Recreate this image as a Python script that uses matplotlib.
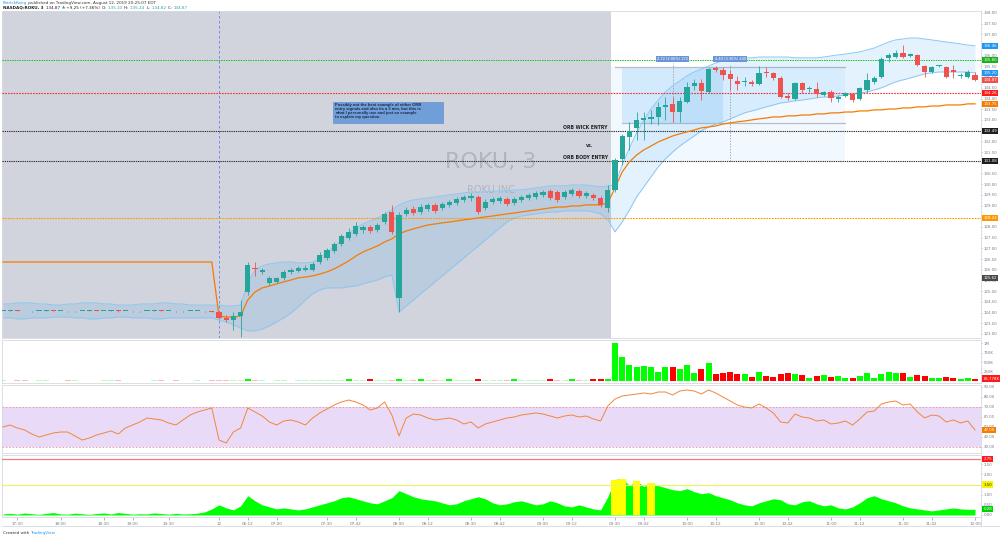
import matplotlib
matplotlib.use("Agg")
import matplotlib.pyplot as plt
import matplotlib.transforms as mtransforms
from matplotlib.patches import Rectangle
import numpy as np

plt.rcParams['font.family'] = ['DejaVu Sans']

# ---------------------------------------------------------------- data
# bar slots: -85 .. -56 prior-day after hours, -55 .. -1 pre-market, 0 .. 50 regular session
first_slot = -85

ah_open = [124.07,124.07,124.08,124.07,124.06,124.07,124.07,124.08,124.07,124.07,124.06,124.07,124.07,124.08,124.07,
           124.07,124.12,124.07,124.07,124.06,124.07,124.07,124.08,124.07,124.07,124.06,124.07,124.07,124.07,124.06]
ah_high = [124.09,124.10,124.10,124.09,124.08,124.09,124.10,124.10,124.09,124.08,124.08,124.09,124.10,124.10,124.09,
           124.14,124.14,124.09,124.08,124.08,124.09,124.10,124.10,124.09,124.08,124.08,124.09,124.09,124.08,124.08]
ah_low = [124.05,124.05,124.05,124.05,124.04,124.05,124.05,124.05,124.05,124.04,124.04,124.05,124.05,124.05,124.05,
          124.05,124.03,124.05,124.04,124.04,124.05,124.05,124.05,124.05,124.04,124.04,124.05,124.05,124.04,124.01]
ah_close = [124.07,124.08,124.07,124.06,124.07,124.07,124.08,124.07,124.07,124.06,124.07,124.07,124.08,124.07,124.07,
            124.12,124.05,124.07,124.06,124.07,124.07,124.08,124.07,124.07,124.06,124.07,124.07,124.07,124.06,124.03]

pm_open = [124.03,123.75,123.65,123.84,124.96,126.08,125.90,125.38,125.43,125.62,125.90,125.94,125.99,125.99,126.36,
           126.55,126.88,127.21,127.49,127.67,127.86,128.00,127.86,128.23,128.70,124.68,128.61,128.84,128.70,128.84,
           129.03,128.89,129.03,129.12,129.26,129.35,129.40,128.89,129.17,129.21,129.31,129.12,129.26,129.35,129.40,
           129.50,129.68,129.63,129.40,129.54,129.68,129.45,129.50,129.35,128.89]
pm_high = [124.07,123.89,124.03,124.59,126.36,126.36,126.08,125.71,125.66,125.99,126.08,126.18,126.22,126.36,126.83,
           127.02,127.30,127.67,127.95,128.23,128.09,128.09,128.19,128.70,129.03,128.70,128.93,128.98,129.07,129.12,
           129.12,129.17,129.26,129.40,129.50,129.59,129.50,129.31,129.40,129.45,129.40,129.40,129.50,129.59,129.68,
           129.73,129.78,129.73,129.73,129.82,129.78,129.68,129.59,129.45,129.96]
pm_low = [123.70,123.56,123.19,122.85,124.82,125.71,125.80,125.29,125.38,125.52,125.80,125.90,125.94,125.94,126.27,
          126.46,126.78,127.11,127.39,127.58,127.72,127.72,127.77,128.14,127.67,124.03,128.51,128.56,128.61,128.75,
          128.65,128.79,128.93,129.03,129.17,129.21,128.61,128.79,129.07,129.12,128.98,129.03,129.17,129.26,129.31,
          129.40,129.26,129.17,129.31,129.45,129.35,129.35,129.26,128.93,128.70]
pm_close = [123.75,123.65,123.84,124.03,126.22,126.04,125.99,125.62,125.62,125.90,125.99,126.08,126.08,126.27,126.69,
            126.92,127.21,127.58,127.77,128.05,128.00,127.81,128.09,128.61,127.77,128.56,128.79,128.65,128.93,129.03,
            128.75,129.07,129.17,129.31,129.40,129.45,128.70,129.17,129.31,129.35,129.07,129.31,129.40,129.50,129.59,
            129.63,129.35,129.26,129.63,129.73,129.45,129.59,129.35,129.03,129.73]

rth_open = [129.73,131.18,132.21,132.63,133.00,133.05,133.14,133.61,133.75,133.37,133.84,134.59,134.73,134.31,135.43,
            135.34,135.15,134.82,134.78,134.78,134.68,135.24,135.20,134.96,134.12,133.98,134.73,134.45,134.45,134.17,
            134.31,133.98,134.12,134.21,133.98,134.40,134.78,135.01,135.90,135.94,136.13,135.99,136.04,135.52,135.24,
            135.52,135.48,135.34,135.06,135.01,135.10]
rth_high = [131.22,132.35,132.91,133.37,133.37,133.47,133.84,134.07,134.07,134.07,134.78,134.92,134.92,135.43,135.52,
            135.48,135.34,135.06,135.01,134.87,135.52,135.48,135.24,135.06,134.26,134.78,134.78,134.59,134.78,134.35,
            134.40,134.17,134.31,134.26,134.54,135.20,135.06,135.94,136.13,136.27,136.50,136.13,136.08,135.57,135.52,
            135.57,135.52,135.57,135.20,135.34,135.24]
rth_low = [129.63,130.90,131.60,132.07,132.07,132.81,132.77,133.00,132.91,132.91,133.79,134.40,133.93,134.26,135.24,
           134.87,134.40,134.40,134.59,134.59,134.64,135.01,134.87,134.03,133.93,133.93,134.26,134.31,134.07,134.12,
           133.84,133.84,134.07,133.84,133.93,134.26,134.68,134.96,135.71,135.90,135.90,135.94,135.52,135.01,135.20,
           135.48,134.96,134.96,134.96,134.96,134.82]
rth_close = [131.13,132.25,132.49,133.00,133.09,133.14,133.61,133.70,133.37,133.89,134.54,134.73,134.35,135.38,135.34,
             135.10,134.92,134.68,134.79,134.68,135.20,135.18,134.96,134.07,134.03,134.73,134.40,134.46,134.21,134.31,
             134.03,134.07,134.26,133.93,134.50,134.87,134.96,135.85,136.04,136.13,135.94,136.08,135.57,135.24,135.48,
             135.53,135.01,135.24,135.07,135.24,134.87]

bb_upper = ([124.40,124.40,124.45,124.45,124.45,124.40,124.40,124.35,124.35,124.40,124.40,124.45,124.45,124.45,124.40,
             124.40,124.35,124.35,124.35,124.40,124.40,124.40,124.45,124.45,124.40,124.40,124.35,124.35,124.35,124.35] +
            [124.35,124.31,124.31,124.35,125.43,125.99,126.18,126.27,126.32,126.36,126.36,126.32,126.32,126.36,126.55,
             126.83,127.07,127.39,127.67,127.95,128.14,128.28,128.42,128.61,128.79,129.03,129.17,129.26,129.31,129.35,
             129.40,129.45,129.50,129.54,129.59,129.63,129.63,129.63,129.68,129.68,129.68,129.73,129.73,129.78,129.82,
             129.87,129.92,129.92,129.92,129.96,129.96,129.96,129.92,129.87,129.92] +
            [129.96,130.90,131.69,132.39,133.00,133.51,133.93,134.31,134.59,134.82,135.06,135.24,135.38,135.52,135.66,
             135.76,135.80,135.85,135.90,135.90,135.94,135.94,135.94,135.94,135.94,135.90,135.90,135.90,135.90,135.94,
             135.99,136.04,136.08,136.13,136.18,136.27,136.36,136.50,136.64,136.74,136.78,136.83,136.83,136.78,136.74,
             136.69,136.64,136.60,136.55,136.50,136.46])
bb_lower = ([123.75,123.75,123.70,123.70,123.75,123.75,123.75,123.79,123.79,123.79,123.75,123.75,123.70,123.70,123.75,
             123.75,123.79,123.79,123.75,123.75,123.75,123.70,123.70,123.75,123.75,123.75,123.75,123.75,123.75,123.75] +
            [123.65,123.56,123.42,123.28,123.14,123.14,123.23,123.37,123.56,123.75,123.98,124.26,124.59,124.87,125.06,
             125.15,125.15,125.15,125.20,125.24,125.34,125.43,125.52,125.66,125.76,124.03,124.31,124.59,124.87,125.15,
             125.43,125.71,125.99,126.27,126.55,126.83,127.11,127.39,127.67,127.95,128.23,128.42,128.51,128.56,128.61,
             128.65,128.70,128.70,128.75,128.75,128.75,128.75,128.70,128.61,128.33] +
            [127.77,128.23,128.79,129.40,129.87,130.34,130.80,131.18,131.50,131.78,132.02,132.25,132.49,132.67,132.81,
             132.91,133.05,133.19,133.33,133.42,133.51,133.61,133.70,133.79,133.84,133.89,133.93,133.98,134.03,134.07,
             134.07,134.12,134.17,134.21,134.26,134.31,134.40,134.50,134.64,134.78,134.87,134.96,135.06,135.15,135.20,
             135.24,135.24,135.24,135.24,135.24,135.20])
vwap = ([126.36] * 30 +
        [123.84,123.79,123.79,123.84,124.59,124.96,125.15,125.24,125.34,125.43,125.52,125.62,125.66,125.71,125.80,
         125.90,126.04,126.22,126.41,126.64,126.83,126.97,127.11,127.30,127.44,127.67,127.81,127.91,128.00,128.09,
         128.14,128.19,128.23,128.28,128.33,128.37,128.42,128.47,128.51,128.56,128.61,128.65,128.70,128.75,128.79,
         128.84,128.89,128.93,128.93,128.98,128.98,129.03,129.03,129.03,129.12] +
        [129.82,130.57,131.04,131.36,131.60,131.78,131.97,132.11,132.25,132.35,132.44,132.53,132.63,132.67,132.72,
         132.81,132.86,132.91,132.95,133.00,133.05,133.09,133.14,133.14,133.19,133.19,133.23,133.23,133.28,133.28,
         133.33,133.33,133.37,133.37,133.42,133.42,133.47,133.47,133.51,133.51,133.56,133.56,133.61,133.61,133.65,
         133.65,133.70,133.70,133.70,133.75,133.75])

volume = ([20000,0,25000,20000,0,22000,25000,0,0,20000,25000,0,0,0,22000,25000,24000,0,0,0,0,20000,25000,0,20000,
           0,0,22000,0,18000] +
          [30000,20000,25000,35000,45000,20000,15000,0,20000,15000,0,18000,20000,15000,25000,30000,28000,20000,45000,
           25000,30000,42000,20000,30000,25000,55000,30000,25000,48000,20000,30000,25000,45000,30000,20000,28000,45000,
           25000,30000,20000,22000,45000,25000,20000,30000,25000,50000,30000,25000,45000,22000,28000,48000,50000,60000] +
          [1010000,638000,426000,372000,399000,372000,239000,372000,372000,319000,426000,213000,319000,479000,186000,
           213000,239000,186000,186000,106000,239000,133000,106000,186000,213000,186000,160000,80000,133000,160000,
           106000,133000,80000,80000,133000,213000,80000,186000,239000,213000,213000,106000,160000,133000,80000,
           80000,106000,80000,53000,80000,65778])

rsi = ([50,52,49,47,43,40,42,44,45,45,41,37,39,42,44,46,43,49,52,55,59,58,57,54,52,57,62,65,67,69] +
       [37,34,45,49,69,65,61,55,52,56,57,55,52,59,64,68,72,75,77,75,72,67,69,75,62,41,59,63,62,59,57,58,59,57,53,
        55,49,53,55,57,59,60,62,63,64,63,61,59,61,62,60,61,58,56,71] +
       [78,81,82,83,84,83,85,85,82,86,87,86,83,87,84,80,76,72,70,69,73,69,64,55,54,63,60,59,56,57,53,54,56,52,58,
        65,66,73,75,76,72,73,65,59,62,61,55,57,54,56,47])

rvol = ([0.05,0.08,0.04,0.10,0.06,0.03,0.08,0.12,0.05,0.04,0.09,0.06,0.03,0.07,0.10,0.05,0.12,0.08,0.04,0.06,
         0.05,0.10,0.07,0.04,0.08,0.05,0.06,0.09,0.15,0.30] +
        [0.50,0.35,0.25,0.45,0.95,0.70,0.50,0.40,0.30,0.35,0.30,0.25,0.30,0.40,0.50,0.60,0.70,0.85,0.90,0.80,
         0.70,0.60,0.55,0.70,0.85,1.20,1.05,0.90,0.80,0.75,0.70,0.60,0.50,0.55,0.70,0.80,0.90,0.80,0.60,0.50,
         0.55,0.65,0.70,0.60,0.50,0.55,0.70,0.60,0.45,0.40,0.50,0.40,0.30,0.25,0.90] +
        [1.75,1.80,1.45,1.70,1.40,1.60,1.45,1.35,1.25,1.20,1.30,1.15,1.05,1.10,0.95,0.85,0.75,0.60,0.50,0.45,
         0.60,0.70,0.80,0.75,0.55,0.50,0.65,0.70,0.55,0.45,0.50,0.35,0.30,0.40,0.60,0.85,0.95,0.80,0.70,0.60,
         0.45,0.35,0.30,0.25,0.20,0.25,0.30,0.35,0.30,0.28,0.28])

time_tick_slots = [-83, -77, -71, -67, -62, -55, -51, -47, -40, -36, -30, -26, -20, -16, -10, -6,
                   0, 4, 10, 14, 20, 24, 30, 34, 40, 44, 50]
time_tick_labels = ['17:30', '18:00', '18:30', '19:00', '19:30', '12', '06:12', '07:00', '07:30', '07:42',
                    '08:00', '08:12', '08:30', '08:42', '09:00', '09:12', '09:30', '09:42', '10:00', '10:12',
                    '10:30', '10:42', '11:00', '11:12', '11:30', '11:42', '12:00']

green_level = 135.80
red_level = 134.26
orb_wick = 132.49
orb_body = 131.08
orange_level = 128.42
prev_close = 125.62
range_top = 135.48
range_mid = 132.86
range_labels = ['2.72 (2.06%) 272', '4.40 (3.36%) 440']
rsi_bounds = (30, 70)
rvol_levels = (1.5, 2.75)

note_text = ("Possibly not the best example of either ORB\n"
             "entry signals and also its a 3 min, but this is\n"
             "what I personally use and just an example\n"
             "to explain my question.")

# ---------------------------------------------------------------- assemble
opens = np.array(ah_open + pm_open + rth_open)
highs = np.array(ah_high + pm_high + rth_high)
lows = np.array(ah_low + pm_low + rth_low)
closes = np.array(ah_close + pm_close + rth_close)
slots = np.arange(first_slot, first_slot + len(opens))
volume = np.array(volume, dtype=float)
rsi = np.array(rsi, dtype=float)
rvol = np.array(rvol)

UP, DN = '#26a69a', '#ef5350'
GRID_TXT = '#787b86'
SPINE = '#d6d9e0'
TICK_FS = 2.8
TAG_FS = 2.8

W, H = 1000, 539
fig = plt.figure(figsize=(10, 5.39), dpi=100)
fig.patch.set_facecolor('white')


def fx(px):
    return px / W


def fy(py):
    return 1 - py / H


LEFT, RIGHT = 2, 981


def add_panel(top, bottom):
    return fig.add_axes([fx(LEFT), fy(bottom), fx(RIGHT - LEFT), (bottom - top) / H])


ax = add_panel(11, 338)
axv = add_panel(340, 383)
axr = add_panel(385, 453)
axb = add_panel(455, 517)

x0 = (LEFT - 615) / 7.2
x1 = (RIGHT - 615) / 7.2
for a in (ax, axv, axr, axb):
    a.set_xlim(x0, x1)
    a.yaxis.tick_right()
    a.tick_params(axis='y', labelsize=TICK_FS, colors=GRID_TXT, length=1.0, width=0.4, pad=0.8)
    for s in a.spines.values():
        s.set_color(SPINE)
        s.set_linewidth(0.6)
    a.set_facecolor('white')
for a in (ax, axv, axr):
    a.set_xticks([])

axb.set_xticks(time_tick_slots)
axb.set_xticklabels(time_tick_labels)
axb.tick_params(axis='x', labelsize=3.0, colors=GRID_TXT, length=2, width=0.4, pad=1.5)


def tag(a, y, txt, fc, tc='white'):
    trans = mtransforms.blended_transform_factory(a.transAxes, a.transData)
    a.text(1.0025, y, txt, transform=trans, fontsize=TAG_FS, color=tc, ha='left', va='center',
           clip_on=False, zorder=20,
           bbox=dict(boxstyle='square,pad=0.3', fc=fc, ec='none'))


# ---------------------------------------------------------------- main price panel
ax.set_ylim(122.81, 138.09)
ax.set_yticks(np.arange(123.0, 138.01, 0.5))
ax.set_yticklabels(['%.2f' % v for v in np.arange(123.0, 138.01, 0.5)])
ax.axvspan(x0 - 1, -0.5, color='#d1d4dc', zorder=0, lw=0)

ax.text(-17.2, 131.04, 'ROKU, 3', fontsize=16, color='#b2b5bd', ha='center', va='center', zorder=1)
ax.text(-17.2, 129.73, 'ROKU INC', fontsize=7, color='#b2b5bd', ha='center', va='center', zorder=1)

ax.axvline(-55, color='#5c7cfa', lw=0.6, ls=(0, (3, 3)), zorder=2)

# range measurement boxes
ax.add_patch(Rectangle((-0.5, orb_body), 32.5, range_top - orb_body, fc='#2196f3', alpha=0.06, lw=0, zorder=1))
ax.add_patch(Rectangle((1, range_mid), 14, range_top - range_mid, fc='#2196f3', alpha=0.14, lw=0, zorder=1))
ax.plot([0, 32], [range_top, range_top], color='#b8bcc4', lw=0.9, zorder=2)
ax.plot([1, 32], [range_mid, range_mid], color='#b8bcc4', lw=0.9, zorder=2)
ax.plot([8, 8], [132.91, 135.66], color='#8a8f99', lw=0.5, ls=(0, (2, 2)), zorder=2)
ax.plot([16, 16], [orb_body, 135.57], color='#8a8f99', lw=0.5, ls=(0, (2, 2)), zorder=2)
for xs, lab in zip((8, 16), range_labels):
    ax.text(xs, 135.74, lab, fontsize=2.6, color='white', ha='center', va='bottom', zorder=12,
            bbox=dict(boxstyle='square,pad=0.3', fc='#6a95d6', ec='none'))

# bollinger bands
ax.fill_between(slots, bb_lower, bb_upper, color='#2196f3', alpha=0.12, lw=0, zorder=2)
ax.plot(slots, bb_upper, color='#8cc6f2', lw=0.7, zorder=2)
ax.plot(slots, bb_lower, color='#8cc6f2', lw=0.7, zorder=2)

# levels
ax.axhline(green_level, color='#19c219', lw=0.7, ls=(0, (1.5, 1)), zorder=3)
ax.axhline(red_level, color='#f23030', lw=0.8, ls=(0, (1.5, 1)), zorder=3)
ax.axhline(orb_wick, color='#333333', lw=0.8, ls=(0, (1.2, 0.8)), zorder=3)
ax.axhline(orb_body, color='#333333', lw=0.8, ls=(0, (1.2, 0.8)), zorder=3)
ax.axhline(orange_level, color='#ff9800', lw=0.8, ls=(0, (1.5, 1)), zorder=3)

# vwap
ax.plot(slots, vwap, color='#f57c00', lw=0.9, zorder=4)

# candles
col = np.where(closes >= opens, UP, DN)
ax.vlines(slots, lows, highs, colors=col, lw=0.6, zorder=5)
body_b = np.minimum(opens, closes)
body_h = np.maximum(np.abs(closes - opens), 0.03)
ax.bar(slots, body_h, bottom=body_b, width=0.72, color=col, lw=0, zorder=6)

# texts
ax.text(-1, orb_wick + 0.06, 'ORB WICK ENTRY', fontsize=3.3, fontweight='bold', color='#222222',
        ha='right', va='bottom', zorder=8)
ax.text(-1, orb_body + 0.06, 'ORB BODY ENTRY', fontsize=3.3, fontweight='bold', color='#222222',
        ha='right', va='bottom', zorder=8)
ax.text(-3.5, (orb_wick + orb_body) / 2, 'vs.', fontsize=3.3, fontweight='bold', color='#222222',
        ha='center', va='center', zorder=8)
ax.add_patch(Rectangle((-39.2, 132.86), 15.3, 0.98, fc='#6f9ed8', ec='#5b89c4', lw=0.4, zorder=8))
ax.text(-38.9, 133.80, note_text, fontsize=3.0, fontweight='bold', color='#1c2b4d', family='Liberation Sans',
        ha='left', va='top', linespacing=1.05, zorder=9)

tag(ax, bb_upper[-1], '%.2f' % bb_upper[-1], '#2196f3')
tag(ax, green_level, '%.2f' % green_level, '#19b319')
tag(ax, bb_lower[-1], '%.2f' % bb_lower[-1], '#2196f3')
tag(ax, closes[-1], '%.2f' % closes[-1], '#ef5350')
tag(ax, red_level, '%.2f' % red_level, '#ff1a1a')
tag(ax, vwap[-1], '%.2f' % vwap[-1], '#f57c00')
tag(ax, orb_wick, '%.2f' % orb_wick, '#1e1e1e')
tag(ax, orb_body, '%.2f' % orb_body, '#1e1e1e')
tag(ax, orange_level, '%.2f' % orange_level, '#ff9800')
tag(ax, prev_close, '%.2f' % prev_close, '#4a4a4a')

# ---------------------------------------------------------------- volume panel
axv.set_ylim(-53000, 1090000)
vcol = np.where(closes >= opens, '#00ff00', '#ff0000')
valpha = np.where(volume >= 40000, 1.0, 0.28)
for s, v, c, al in zip(slots, volume, vcol, valpha):
    if v > 0:
        axv.bar(s, v, width=0.85, color=c, alpha=al, lw=0, zorder=3)
axv.set_yticks([250000, 500000, 750000, 1000000])
axv.set_yticklabels(['250K', '500K', '750K', '1M'])
tag(axv, volume[-1], '%.3fK' % (volume[-1] / 1000), '#ff1a1a')

# ---------------------------------------------------------------- RSI panel
axr.set_ylim(24, 92)
axr.axhspan(rsi_bounds[0], rsi_bounds[1], color='#e9dbf8', lw=0, zorder=1)
for lv in rsi_bounds:
    axr.axhline(lv, color='#ec8fa6', lw=0.6, ls=(0, (2, 2)), zorder=2)
axr.plot(slots, rsi, color='#f2853b', lw=0.7, zorder=3)
axr.set_yticks(np.arange(30, 91, 10))
axr.set_yticklabels(['%.2f' % v for v in np.arange(30, 91, 10)])
tag(axr, rsi[-1], '%.2f' % rsi[-1], '#f57c00')

# ---------------------------------------------------------------- relative volume panel
axb.set_ylim(-0.1, 2.96)
axb.fill_between(slots, 0, rvol, color='#00ff00', lw=0, zorder=2)
hi = rvol > rvol_levels[0]
axb.bar(slots[hi], rvol[hi], width=1.0, color='#ffff00', lw=0, zorder=3)
axb.axhline(rvol_levels[1], color='#f47c7c', lw=0.9, zorder=4)
axb.axhline(rvol_levels[0], color='#f0f06a', lw=0.9, zorder=4)
axb.set_yticks(np.arange(0, 2.51, 0.5))
axb.set_yticklabels(['%.2f' % v for v in np.arange(0, 2.51, 0.5)])
tag(axb, rvol_levels[1], '%.2f' % rvol_levels[1], '#ff1a1a')
tag(axb, rvol_levels[0], '%.2f' % rvol_levels[0], '#f5f500', tc='#222222')
tag(axb, rvol[-1], '%.2f' % rvol[-1], '#00d000')

# ---------------------------------------------------------------- header / footer
renderer = fig.canvas.get_renderer()


def rich(x_px, y_px, parts, fontsize):
    x = fx(x_px)
    for txt, color, weight in parts:
        t = fig.text(x, fy(y_px), txt, color=color, fontsize=fontsize, fontweight=weight,
                     ha='left', va='center')
        bb = t.get_window_extent(renderer=renderer)
        x += bb.width / W


rich(3, 3.2, [('PatrickKong', '#2196f3', 'normal'),
              (' published on TradingView.com, August 12, 2019 20:25:07 EDT', '#333333', 'normal')], 3.0)
rich(3, 7.6, [('NASDAQ:ROKU, 3  ', '#222222', 'bold'),
              ('134.87 ', '#222222', 'normal'),
              ('\u25b2', '#26a69a', 'normal'),
              (' +9.25 (+7.36%)  ', '#222222', 'normal'),
              ('O: ', '#222222', 'normal'), ('135.10  ', '#26a69a', 'normal'),
              ('H: ', '#222222', 'normal'), ('135.24  ', '#26a69a', 'normal'),
              ('L: ', '#222222', 'normal'), ('134.82  ', '#26a69a', 'normal'),
              ('C: ', '#222222', 'normal'), ('134.87', '#26a69a', 'normal')], 3.0)
rich(3, 533, [('Created with ', '#333333', 'normal'), ('TradingView', '#2196f3', 'normal')], 3.0)

# x-axis strip border
fig.add_artist(plt.Line2D([fx(LEFT), fx(999)], [fy(526), fy(526)], color=SPINE, lw=0.6))
fig.add_artist(plt.Line2D([fx(RIGHT), fx(RIGHT)], [fy(517), fy(526)], color=SPINE, lw=0.6))

fig.savefig('out.png', dpi=100)
